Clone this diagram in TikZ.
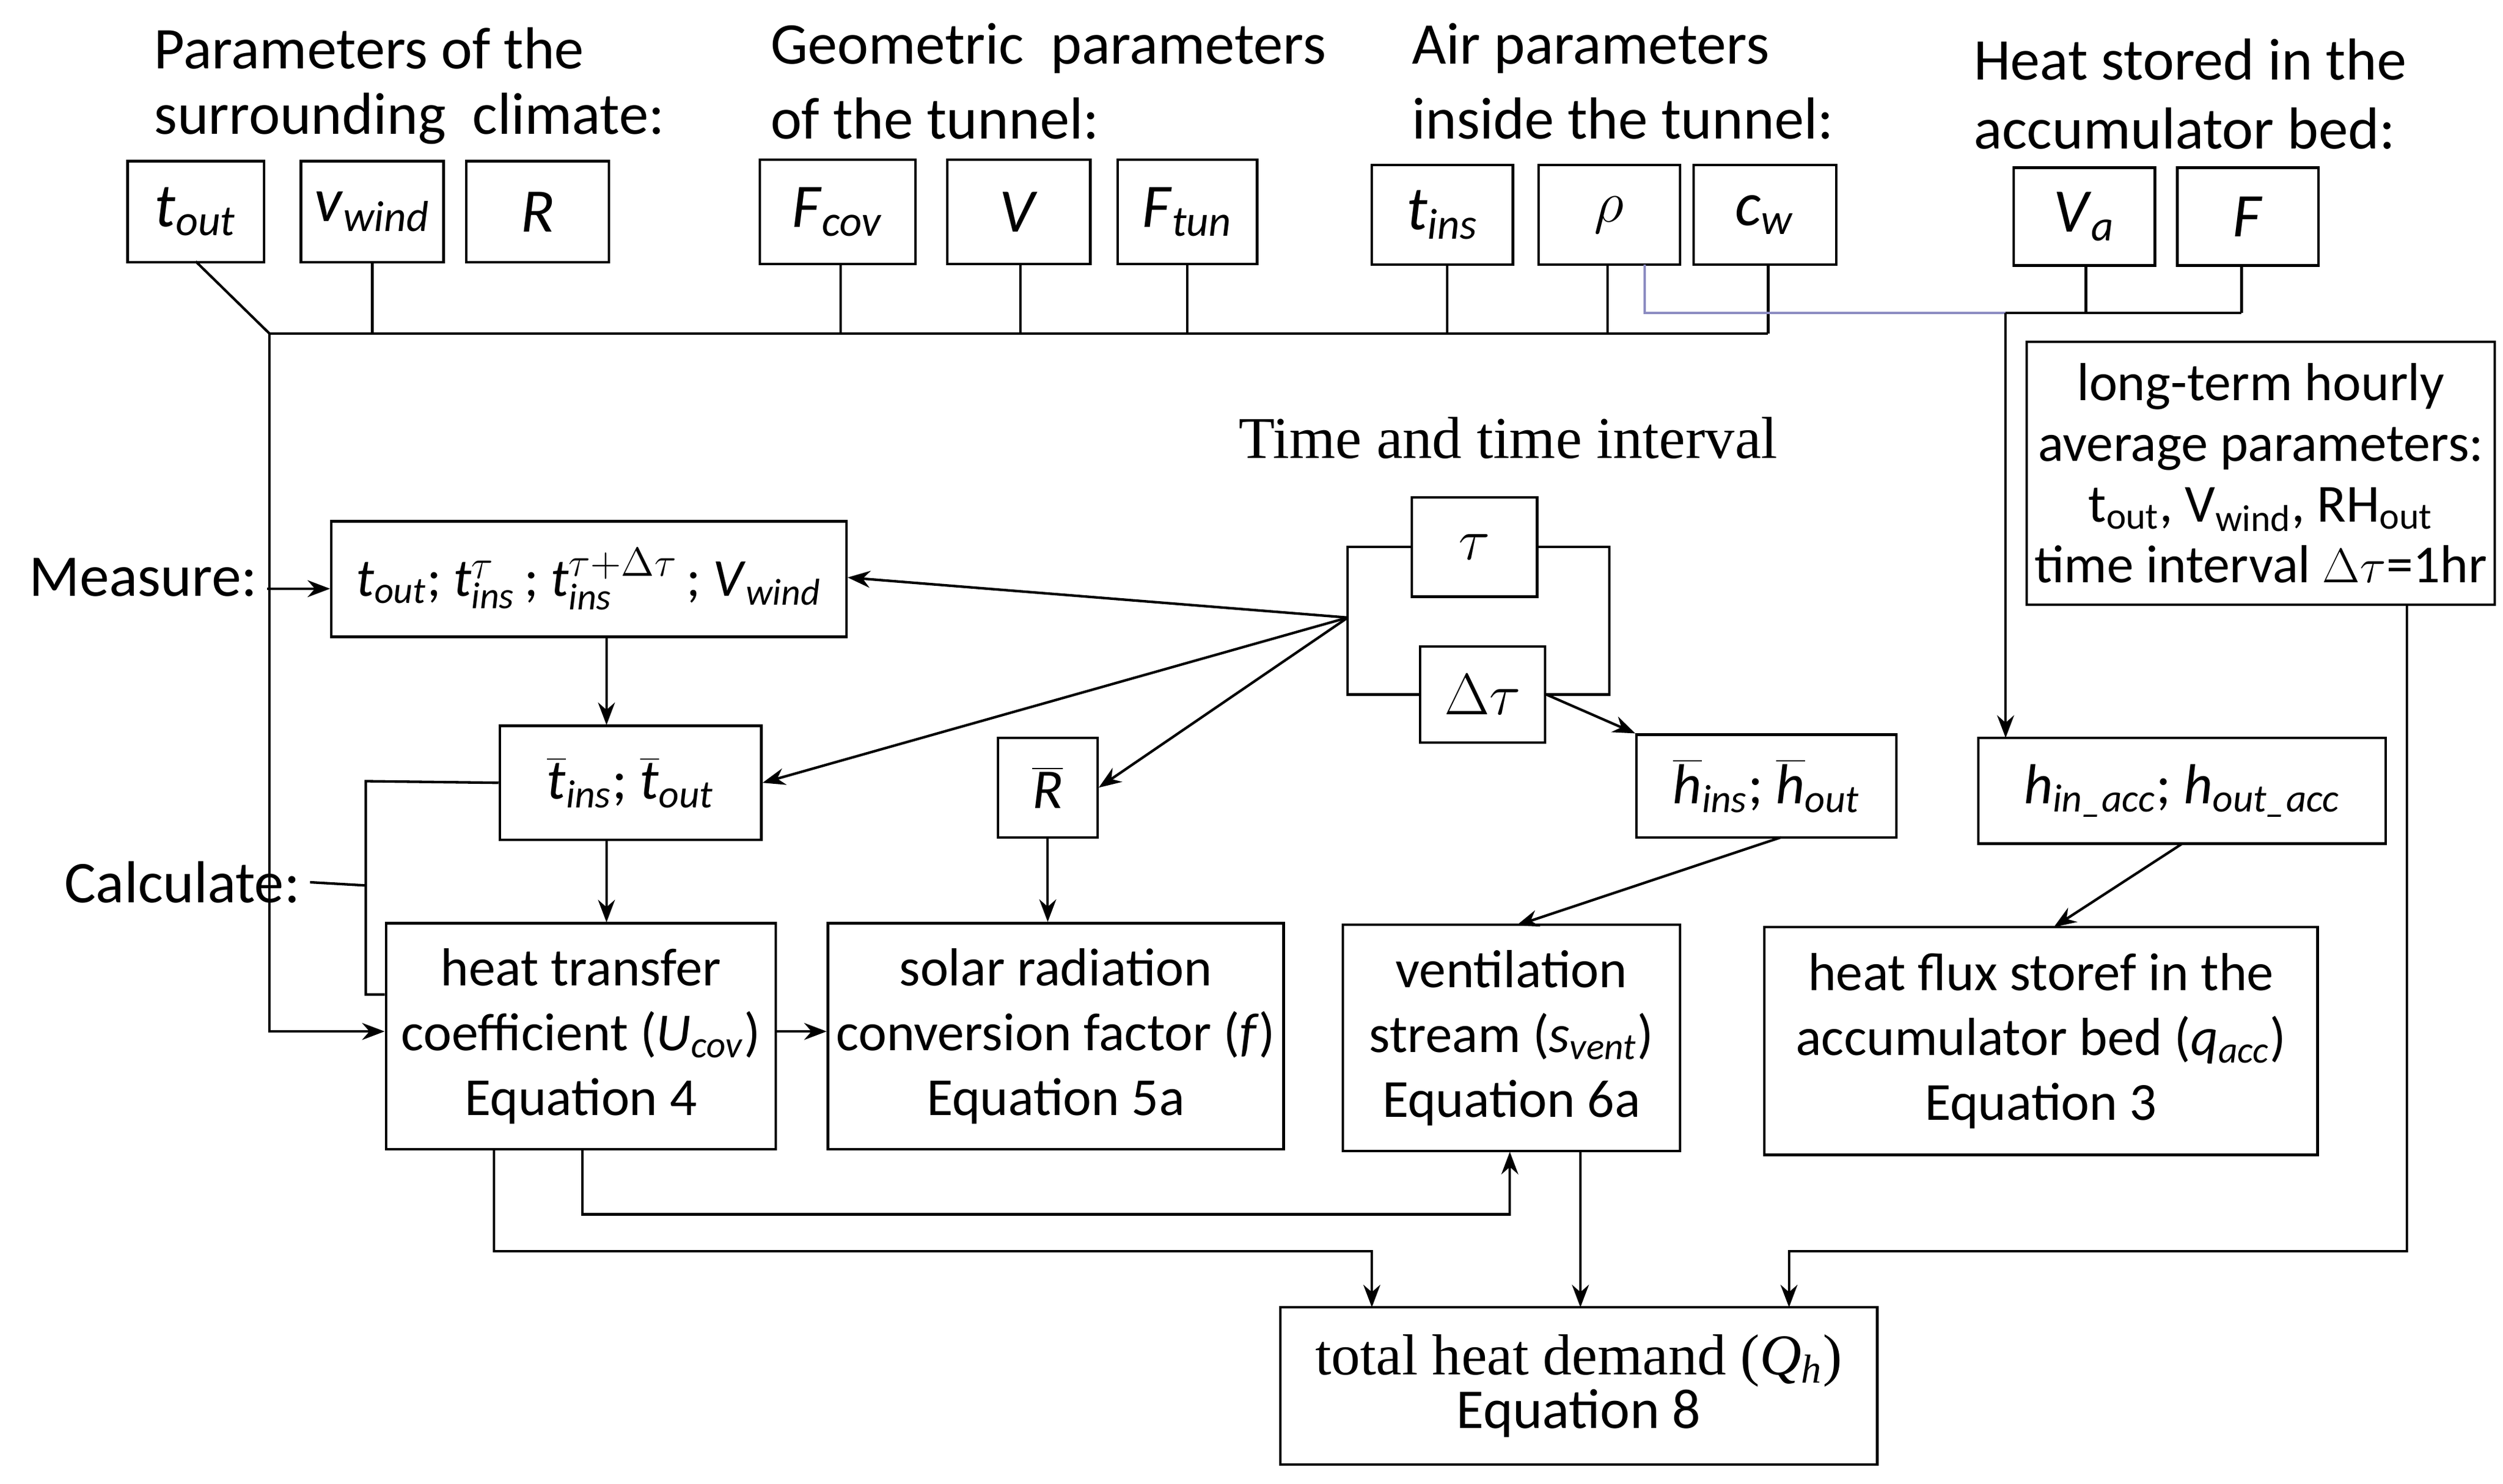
\documentclass[tikz,border=0pt]{standalone}
\usepackage{fontspec}
\setmainfont{Carlito}
\newfontfamily\serifx{Liberation Serif}
\usetikzlibrary{arrows.meta}
\newcommand\vsub[2]{\textit{#1}\textsubscript{\textit{#2}}}
\begin{document}
\begin{tikzpicture}[x=0.02cm,y=-0.02cm,
 bx/.style={draw,line width=0.9pt,inner sep=0pt},
 ln/.style={line width=0.9pt},
 ar/.style={line width=0.9pt,-{Stealth[length=8pt,width=6pt]}},
 hd/.style={font=\fontsize{21}{25}\selectfont,anchor=west},
 big/.style={font=\fontsize{22}{26}\selectfont},
 txt/.style={font=\fontsize{19}{23}\selectfont,align=center}]
\useasboundingbox (0,0) rectangle (1560,925);
% headings
\node[hd] at (90,30) {Parameters of the};
\node[hd] at (90,74) {surrounding\ \ climate:};
\node[hd] at (474,30) {Geometric\ \ parameters};
\node[hd] at (474,74) {of the tunnel:};
\node[hd] at (874,30) {Air parameters};
\node[hd] at (874,74) {inside the tunnel:};
\node[hd] at (1224,37) {Heat stored in the};
\node[hd] at (1224,80) {accumulator bed:};
% top boxes
\node[bx,big,minimum width=1.7cm,minimum height=1.26cm] (tout) at (122,132) {\vsub{t}{out}};
\node[bx,big,minimum width=1.78cm,minimum height=1.26cm] (vw) at (232,132) {\vsub{v}{wind}};
\node[bx,big,minimum width=1.78cm,minimum height=1.26cm] (R) at (335,132) {\textit{R}};
\node[bx,big,minimum width=1.94cm,minimum height=1.3cm] (Fc) at (522,132) {\vsub{F}{cov}};
\node[bx,big,minimum width=1.78cm,minimum height=1.3cm] (V) at (635,132) {\textit{V}};
\node[bx,big,minimum width=1.74cm,minimum height=1.3cm] (Ft) at (740,132) {\vsub{F}{tun}};
\node[bx,big,minimum width=1.76cm,minimum height=1.24cm] (ti) at (899,134) {\vsub{t}{ins}};
\node[bx,big,minimum width=1.76cm,minimum height=1.24cm] (rho) at (1003,134) {$\rho$};
\node[bx,big,minimum width=1.78cm,minimum height=1.24cm] (cw) at (1100,134) {\vsub{c}{w}};
\node[bx,big,minimum width=1.76cm,minimum height=1.22cm] (Va) at (1299,135) {\vsub{V}{a}};
\node[bx,big,minimum width=1.76cm,minimum height=1.22cm] (F) at (1401,135) {\textit{F}};
% bus
\coordinate (b0) at (168,208); \coordinate (b1) at (1102,208);
\draw[ln] (b0) -- (b1);
\draw[ln] (122,163) -- (b0);
\foreach \x/\n in {232/vw,524/Fc,636/V,740/Ft,902/ti,1002/rho,1102/cw}{\draw[ln] (\n.south -| \x,0) -- (\x,208);}
% accumulator lines
\draw[ln,color=blue!30!gray!70] (1025,165) -- (1025,195) -- (1250,195);
\draw[ln] (1250,195) -- (1397,195);
\draw[ln] (Va.south -| 1300,0) -- (1300,195);
\draw[ln] (F.south -| 1397,0) -- (1397,195);
% long-term box
\node[bx,txt,minimum width=5.84cm,minimum height=3.28cm,align=center,font=\fontsize{19}{21.5}\selectfont] (lt) at (1409,295) {long-term hourly\\average parameters:\\t\textsubscript{out}, V\textsubscript{wind}, RH\textsubscript{out}\\time interval $\Delta\tau$=1hr};
% time
\node[font=\serifx\fontsize{21}{25}\selectfont] at (940,273) {Time and time interval};
\node[bx,minimum width=1.56cm,minimum height=1.24cm,font=\fontsize{22}{26}\selectfont] (tau) at (919,341) {$\tau$};
\node[bx,minimum width=1.56cm,minimum height=1.2cm,font=\fontsize{22}{26}\selectfont] (dtau) at (924,433) {$\Delta\tau$};
\coordinate (hub) at (840,385);
\draw[ln] (tau.west) -- (840,341) -- (840,433) -- (dtau.west);
\draw[ln] (tau.east) -- (1003,341) -- (1003,433) -- (dtau.east);
% measure
\node[hd,font=\fontsize{21}{25}\selectfont] (meas) at (12,360) {Measure:};
\node[bx,minimum width=6.42cm,minimum height=1.44cm,font=\fontsize{19}{23}\selectfont] (mb) at (367,361) {\vsub{t}{out}; \textit{t}$^{\tau}_{\mathit{ins}}$\,; \textit{t}$^{\tau+\Delta\tau}_{\mathit{ins}}$\,; \vsub{V}{wind}};
\draw[ar] (meas.east|-0,367) -- (mb.west|-0,367);
\node[bx,minimum width=3.26cm,minimum height=1.42cm,font=\fontsize{20}{24}\selectfont] (tb) at (393,488) {$\overline{\hbox{\textit{t}}}$\textsubscript{\textit{ins}}; $\overline{\hbox{\textit{t}}}$\textsubscript{\textit{out}}};
\node[bx,minimum width=1.24cm,minimum height=1.24cm,font=\fontsize{20}{24}\selectfont] (Rb) at (653,491) {$\overline{\hbox{\textit{R}}}$};
\node[bx,minimum width=3.24cm,minimum height=1.28cm,font=\fontsize{20}{24}\selectfont] (hb) at (1101,490) {$\overline{\hbox{\textit{h}}}$\textsubscript{\textit{ins}}; $\overline{\hbox{\textit{h}}}$\textsubscript{\textit{out}}};
\node[bx,minimum width=5.08cm,minimum height=1.32cm,font=\fontsize{20}{24}\selectfont] (ha) at (1360,493) {\vsub{h}{in\_acc}; \vsub{h}{out\_acc}};
\draw[ar] (hub) -- (mb.east|-0,360);
\draw[ar] (hub) -- (tb.east);
\draw[ar] (hub) -- (Rb.east);
\draw[ar] (dtau.east) -- (hb.north west);
\draw[ar] (1250,195) -- (1250,460);
\draw[ar] (378,397) -- (378,452);
% calculate
\node[hd,font=\fontsize{21}{25}\selectfont] (calc) at (34,550) {Calculate:};
\node[bx,txt,minimum width=4.86cm,minimum height=2.82cm] (heat) at (362,646) {heat transfer\\coefficient (\vsub{U}{cov})\\Equation 4};
\node[bx,txt,minimum width=5.68cm,minimum height=2.82cm] (sol) at (658,646) {solar radiation\\conversion factor (\textit{f})\\Equation 5a};
\node[bx,txt,minimum width=4.2cm,minimum height=2.82cm] (ven) at (942,647) {ventilation\\stream (\vsub{s}{vent})\\Equation 6a};
\node[bx,txt,minimum width=6.9cm,minimum height=2.84cm] (hf) at (1272,649) {heat flux storef in the\\accumulator bed (\vsub{q}{acc})\\Equation 3};
\node[bx,minimum width=7.44cm,minimum height=1.96cm,align=center] (tot) at (984,864) {{\serifx\fontsize{20.5}{25}\selectfont total heat demand (\textit{Q\textsubscript{h}})}\\{\fontsize{20}{24}\selectfont Equation 8}};
\draw[ln] (tb.west) -- (228,487) -- (228,620) -- (heat.west|-0,620);
\draw[ln] (calc.east) -- (228,552);
\draw[ar] (b0) -- (168,643) -- (heat.west|-0,643);
\draw[ar] (378,523) -- (378,575);
\draw[ar] (heat.east|-0,643) -- (sol.west|-0,643);
\draw[ar] (Rb.south) -- (sol.north-|Rb.south);
\draw[ar] (1110,522) -- (945,577);
\draw[ar] (1360,526) -- (1280,578);
\draw[ar] (363,716) -- (363,757) -- (941,757) -- (941,718);
\draw[ar] (308,716) -- (308,780) -- (855,780) -- (855,815);
\draw[ar] (985,718) -- (985,815);
\draw[ar] (lt.south-|1500,0) -- (1500,780) -- (1115,780) -- (1115,815);
\end{tikzpicture}
\end{document}
